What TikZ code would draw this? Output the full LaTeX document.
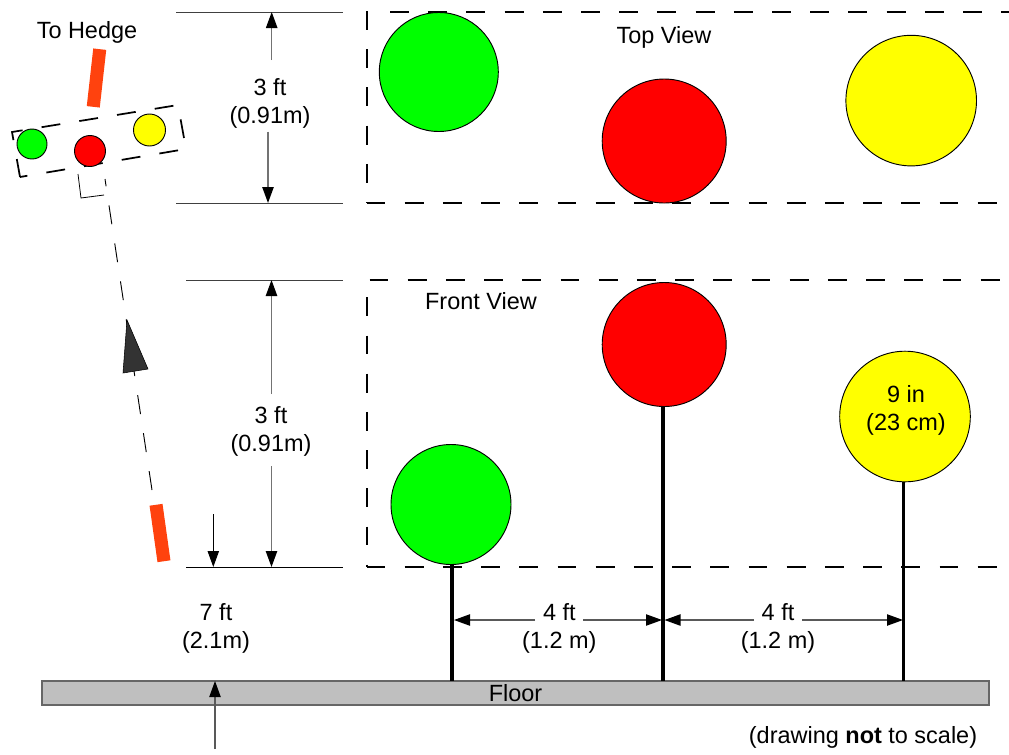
\documentclass[tikz,border=0pt]{standalone}
\usepackage{fontspec}
\setmainfont{Liberation Sans}
\usetikzlibrary{arrows.meta}
\definecolor{hedge}{HTML}{FF420E}
\definecolor{floorgray}{HTML}{BFBFBF}
\definecolor{floorline}{HTML}{666666}
\definecolor{ahead}{HTML}{333333}
\definecolor{ballred}{RGB}{255,0,0}
\definecolor{ballgreen}{RGB}{0,255,0}
\definecolor{ballyellow}{RGB}{255,255,0}
\tikzset{
  x=0.75pt,y=-0.75pt,
  every node/.style={font=\fontsize{17.6}{21}\selectfont,align=center,inner sep=0pt},
  ball/.style={circle,draw=black,line width=0.7pt,minimum size=#1*0.75pt},
  extline/.style={draw=black!75,line width=0.75pt},
  dimline/.style={draw=black!65,line width=0.85pt,-{Triangle[length=12pt,width=8.5pt,fill=black,color=black]}},
  vdimline/.style={dimline,draw=black!55,line width=1.1pt},
  frameline/.style={draw=black,line width=1.3pt,dash pattern=on 14.2pt off 14.45pt},
  pole/.style={draw=black,line width=2.8pt},
  hedgebar/.style={rectangle,fill=hedge,minimum width=9.8pt,minimum height=#1*0.75pt}
}
\begin{document}
\begin{tikzpicture}
\useasboundingbox (0,0) rectangle (1009,754);
% floor
\node[rectangle,draw=floorline,fill=floorgray,line width=0.9pt,minimum width=947*0.75pt,minimum height=24*0.75pt] (floor) at (515.5,693) {Floor};
% frames
\draw[frameline] (390,12) -- (1009,12);
\draw[frameline] (367,11) -- (367,203);
\draw[frameline] (366.5,203) -- (1009,203);
\draw[frameline] (369.5,280) -- (1009,280);
\draw[frameline] (367,297.3) -- (367,567);
\draw[frameline] (366.5,567) -- (1009,567);
% extension lines
\coordinate (t1a) at (176,12); \coordinate (t1b) at (343,12);
\coordinate (t2a) at (176,203); \coordinate (t2b) at (343,203);
\coordinate (f1a) at (186,280); \coordinate (f1b) at (343,280);
\coordinate (f2a) at (186,567); \coordinate (f2b) at (343,567);
\draw[extline] (t1a) -- (t1b);
\draw[extline] (t2a) -- (t2b);
\draw[extline] (f1a) -- (f1b);
\draw[extline,draw=black] (f2a) -- (f2b);
% top balls
\node[ball=119,fill=ballgreen] (tg) at (438.8,72) {};
\node[ball=124,fill=ballred] (tr) at (664.2,141) {};
\node[ball=130.6,fill=ballyellow] (ty) at (911.2,100.6) {};
% poles
\coordinate (pg) at (452.3,681); \coordinate (pr) at (662.8,681); \coordinate (py) at (903.5,681);
% front balls
\node[ball=124,fill=ballred] (fr) at (664.2,344.5) {};
\node[ball=120,fill=ballgreen] (fg) at (451,504.5) {};
\node[ball=130.6,fill=ballyellow] (fy) at (905,416.5) {};
\draw[pole] (fg.south-|pg) -- (pg);
\draw[pole] (fr.south-|pr) -- (pr);
\draw[pole] (fy.south-|py) -- (py);
% labels
\node (fylab) at (906,410.5) {9 in\\(23 cm)};
\node (hedgelab) at (87,32) {To Hedge};
\node (toplab) at (664,37) {Top View};
\node (frontlab) at (481,301) {Front View};
\node (d1) at (270,103.3) {3 ft\\(0.91m)};
\node (d2) at (271,431) {3 ft\\(0.91m)};
\node (d3) at (216,628) {7 ft\\(2.1m)};
\node (d4) at (559.3,628) {4 ft\\(1.2 m)};
\node (d5) at (778,628) {4 ft\\(1.2 m)};
\node (note) at (863,737) {(drawing \textbf{not} to scale)};
% dimension arrows
\coordinate (d1u) at (271.7,60); \coordinate (d1ut) at (271.7,12);
\coordinate (d1d) at (268,131.7); \coordinate (d1dt) at (268,203);
\coordinate (d2u) at (271.5,394); \coordinate (d2ut) at (271.5,280);
\coordinate (d2d) at (271.5,466); \coordinate (d2dt) at (271.5,567);
\draw[vdimline] (d1u) -- (d1ut);
\draw[vdimline] (d1d) -- (d1dt);
\draw[vdimline] (d2u) -- (d2ut);
\draw[vdimline] (d2d) -- (d2dt);
\coordinate (a1) at (213.3,514); \coordinate (a2) at (213.3,567);
\coordinate (a3) at (215,749); \coordinate (a4) at (215,681);
\draw[dimline,draw=black] (a1) -- (a2);
\draw[dimline] (a3) -- (a4);
\coordinate (l1a) at (535,620); \coordinate (l1b) at (583,620);
\coordinate (l2a) at (754,620); \coordinate (l2b) at (802,620);
\draw[dimline] (l1a) -- (454,620);
\draw[dimline] (l1b) -- (662,620);
\draw[dimline] (l2a) -- (664.5,620);
\draw[dimline] (l2b) -- (903,620);
% hedge bars
\node[hedgebar=58,rotate=-6.4] (bar1) at (96.5,78) {};
\node[hedgebar=57,rotate=8] (bar2) at (160,533) {};
% sight line
\coordinate (s1) at (152,490); \coordinate (s2) at (105,179);
\draw[black,line width=0.7pt,dash pattern=on 14.3pt off 14.5pt] (s1) -- (s2);
\draw[black,line width=0.6pt] (78,174) -- (81,198) -- (104,195);
\draw[black,line width=0.4pt,fill=ahead] (127,320) -- (123,373) -- (148,369) -- cycle;
% mini layout
\draw[frameline,dash phase=8.6pt] (20,177) -- (186,149) -- (178,105) -- (12,132) -- cycle;
\node[ball=30,fill=ballgreen] (mg) at (32,144) {};
\node[ball=31,fill=ballred] (mr) at (90,151) {};
\node[ball=32,fill=ballyellow] (my) at (149.5,130) {};
\end{tikzpicture}
\end{document}
